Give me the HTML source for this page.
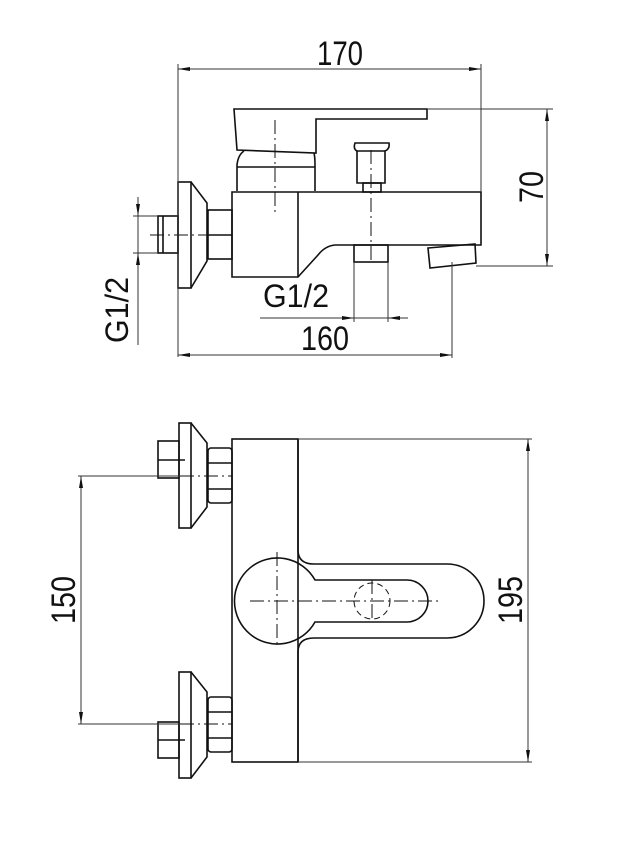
<!DOCTYPE html>
<html><head><meta charset="utf-8"><style>
html,body{margin:0;padding:0;background:#fff;}
svg{display:block;}
text{font-family:"Liberation Sans Narrow","Liberation Sans",sans-serif;fill:#111;}
</style></head><body>
<svg width="622" height="845" viewBox="0 0 622 845" xmlns="http://www.w3.org/2000/svg">
<g fill="none" stroke="#111" stroke-width="1.6">
<!-- TOP VIEW -->
<path d="M234,109 L427,109 L427,119 L316,119 L316,153 L237,150 Z"/>
<path d="M237,191 L237,165 Q238,155 244,151 M315,191 L315,165 Q315,157 314,153"/>
<line x1="237" y1="167" x2="315" y2="167"/>
<path d="M232,192 L481,192 L481,245 L335,245 Q325,246 318,255 L298,277 L232,277 Z"/>
<line x1="298" y1="192" x2="298" y2="277"/>
<path d="M355,143 L389,143 Q390,149 385,151 L385,183 L357,183 L357,151 Q353,149 355,143 Z"/>
<line x1="357" y1="151" x2="385" y2="151"/>
<rect x="363" y="183" width="18" height="9"/>
<rect x="354" y="245" width="34" height="17"/>
<path d="M428,248 L475,244 L476,263 L430,268 Z"/>
<rect x="178" y="182" width="13" height="106"/>
<path d="M191,182 L207,203 L207,261 L191,288"/>
<rect x="208" y="210" width="24" height="49"/>
<line x1="208" y1="235" x2="232" y2="235"/>
<rect x="158" y="216" width="20" height="37"/>
<line x1="163" y1="216" x2="163" y2="253"/>
</g>
<g fill="none" stroke="#111" stroke-width="1" stroke-dasharray="14,4,2,4">
<line x1="150" y1="235" x2="232" y2="235"/>
<line x1="275" y1="120" x2="275" y2="213"/>
<line x1="371" y1="150" x2="371" y2="262"/>
</g>
<!-- top dims -->
<g fill="none" stroke="#333" stroke-width="1">
<line x1="178" y1="64" x2="178" y2="357"/>
<line x1="481" y1="64" x2="481" y2="192"/>
<line x1="178" y1="69" x2="481" y2="69"/>
<line x1="427" y1="109" x2="553" y2="109"/>
<line x1="476" y1="266" x2="553" y2="266"/>
<line x1="547" y1="109" x2="547" y2="266"/>
<line x1="178" y1="355" x2="452" y2="355"/>
<line x1="452" y1="262" x2="452" y2="358"/>
<line x1="260" y1="318" x2="408" y2="318"/>
<line x1="354" y1="262" x2="354" y2="322"/>
<line x1="388" y1="262" x2="388" y2="322"/>
<line x1="138" y1="197" x2="138" y2="345"/>
<line x1="133" y1="216" x2="158" y2="216"/>
<line x1="133" y1="253" x2="158" y2="253"/>
</g>
<g fill="#111">
<path d="M178,69 L190,67 L190,71Z"/><path d="M481,69 L469,67 L469,71Z"/>
<path d="M547,109 L545,121 L549,121Z"/><path d="M547,266 L545,254 L549,254Z"/>
<path d="M178,355 L190,353 L190,357Z"/><path d="M452,355 L440,353 L440,357Z"/>
<path d="M354,318 L342,316 L342,320Z"/><path d="M388,318 L400,316 L400,320Z"/>
<path d="M138,216 L136,204 L140,204Z"/><path d="M138,253 L136,265 L140,265Z"/>
</g>
<text x="317" y="65" font-size="34" textLength="46" lengthAdjust="spacingAndGlyphs">170</text>
<text x="301" y="350" font-size="34" textLength="48" lengthAdjust="spacingAndGlyphs">160</text>
<text x="263" y="307" font-size="32" textLength="66" lengthAdjust="spacingAndGlyphs">G1/2</text>
<text transform="translate(543,203) rotate(-90)" font-size="34" textLength="32" lengthAdjust="spacingAndGlyphs">70</text>
<text transform="translate(128,343) rotate(-90)" font-size="32" textLength="66" lengthAdjust="spacingAndGlyphs">G1/2</text>

<!-- BOTTOM VIEW -->
<g fill="none" stroke="#111" stroke-width="1.6">
<rect x="232" y="439" width="66" height="323"/>
<path d="M298,439 L298,550 Q298,564 314,564 L447,564 A37,37 0 0 1 447,638 L314,638 Q298,638 298,652 L298,762"/>
<path d="M315,580 L407,580 A21,21 0 0 1 407,622 L315,622 A43,43 0 1 1 315,580 Z"/>
<!-- inlets -->
<rect x="179" y="423" width="12" height="105"/>
<path d="M191,423 L207,443 L207,507 L191,528"/>
<rect x="208" y="448" width="24" height="55" rx="3"/>
<line x1="208" y1="463" x2="232" y2="463"/><line x1="208" y1="489" x2="232" y2="489"/>
<rect x="158" y="441" width="21" height="37"/>
<line x1="158" y1="460" x2="185" y2="460"/>
<rect x="179" y="672" width="12" height="106"/>
<path d="M191,672 L207,692 L207,757 L191,778"/>
<rect x="208" y="697" width="24" height="55" rx="3"/>
<line x1="208" y1="712" x2="232" y2="712"/><line x1="208" y1="738" x2="232" y2="738"/>
<rect x="158" y="722" width="21" height="36"/>
<line x1="158" y1="740" x2="185" y2="740"/>
</g>
<g fill="none" stroke="#111" stroke-width="1" stroke-dasharray="6,4">
<circle cx="372" cy="601" r="18"/>
</g>
<g fill="none" stroke="#111" stroke-width="1" stroke-dasharray="14,4,2,4">
<line x1="250" y1="601" x2="442" y2="601"/>
<line x1="277" y1="552" x2="277" y2="645"/>
<line x1="372" y1="580" x2="372" y2="622"/>
<line x1="180" y1="476" x2="232" y2="476"/>
<line x1="180" y1="724" x2="232" y2="724"/>
</g>
<g fill="none" stroke="#333" stroke-width="1">
<line x1="298" y1="439" x2="532" y2="439"/>
<line x1="298" y1="762" x2="532" y2="762"/>
<line x1="528" y1="439" x2="528" y2="762"/>
<line x1="78" y1="476" x2="180" y2="476"/>
<line x1="78" y1="724" x2="180" y2="724"/>
<line x1="81" y1="476" x2="81" y2="724"/>
</g>
<g fill="#111">
<path d="M528,439 L526,451 L530,451Z"/><path d="M528,762 L526,750 L530,750Z"/>
<path d="M81,476 L79,488 L83,488Z"/><path d="M81,724 L79,712 L83,712Z"/>
</g>
<text transform="translate(522,624) rotate(-90)" font-size="34" textLength="48" lengthAdjust="spacingAndGlyphs">195</text>
<text transform="translate(75,624) rotate(-90)" font-size="34" textLength="48" lengthAdjust="spacingAndGlyphs">150</text>
</svg>
</body></html>
